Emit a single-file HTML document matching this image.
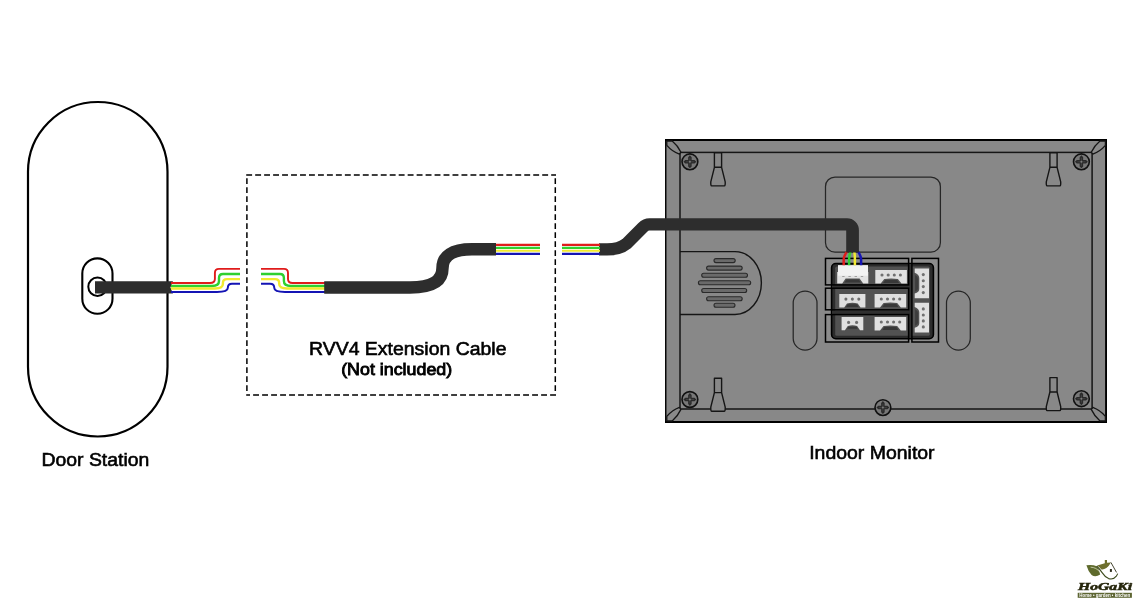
<!DOCTYPE html>
<html lang="en">
<head>
<meta charset="utf-8">
<title>Wiring Diagram</title>
<style>
  html, body { margin: 0; padding: 0; background: #ffffff; }
  body { width: 1135px; height: 612px; overflow: hidden; position: relative; }
  svg { position: absolute; left: 0; top: 0; display: block; will-change: transform; }
  text { font-family: "Liberation Sans", Arial, sans-serif; fill: #000; }
</style>
</head>
<body>
<svg width="1135" height="612" viewBox="0 0 1135 612">
  <defs>
    <g id="screw">
      <circle cx="0" cy="0" r="7.9" fill="#787878" stroke="#111" stroke-width="1.6"/>
      <path d="M-6.5 0 L-4.6 -1.75 H-1.75 V-4.6 L0 -6.5 L1.75 -4.6 V-1.75 H4.6 L6.5 0 L4.6 1.75 H1.75 V4.6 L0 6.5 L-1.75 4.6 V1.75 H-4.6 Z" fill="#2a2a2a"/>
      <path d="M-4 0 H4 M0 -4 V4" stroke="#4a4a4a" stroke-width="0.7" fill="none"/>
      <circle cx="0" cy="0" r="1" fill="#7a7a7a"/>
    </g>
    <g id="hangerTop">
      <path d="M-3.6 0 H3.6 V14.4 L7.2 29 Q7.4 33 6.4 33 H-6.4 Q-7.4 33 -7.2 29 L-3.6 14.4 Z M-3.6 14.4 H3.6" fill="#888888" stroke="#151515" stroke-width="1.4" stroke-linejoin="round"/>
    </g>
    <g id="conn4">
      <path d="M0 0 H31.6 V13.5 H26.2 L22.6 9 Q15.8 7.8 9 9 L5.4 13.5 H0 Z" fill="#e0e0e0"/>
      <path d="M9.8 9.8 H21.8 L23.8 12.9 H7.8 Z" fill="#383838"/>
      <circle cx="6.7" cy="4.9" r="1.55" fill="#707070"/><circle cx="12.9" cy="4.9" r="1.55" fill="#707070"/><circle cx="19" cy="4.9" r="1.55" fill="#707070"/><circle cx="25.1" cy="4.9" r="1.55" fill="#707070"/>
    </g>
    <g id="connV">
      <path d="M0 0 H14.3 V29.8 H0 V25 Q4.6 23.4 4.6 20.4 V9.4 Q4.6 6.2 0 4.2 Z" fill="#e0e0e0"/>
      <path d="M0.4 6.4 Q3.4 8 3.4 10.4 V19.4 Q3.4 21.8 0.4 23 Z" fill="#3c3c3c"/>
      <circle cx="8.6" cy="6.1" r="1.55" fill="#707070"/><circle cx="8.6" cy="12.2" r="1.55" fill="#707070"/><circle cx="8.6" cy="18.1" r="1.55" fill="#707070"/><circle cx="8.6" cy="24.1" r="1.55" fill="#707070"/>
    </g>
  </defs>

  <!-- ================= Door Station ================= -->
  <rect x="28" y="102" width="139.5" height="334.5" rx="69.75" ry="69.75" fill="#fff" stroke="#000" stroke-width="2.2"/>
  <rect x="82.3" y="258.4" width="30.2" height="55.4" rx="15.1" ry="15.1" fill="#fff" stroke="#000" stroke-width="2.1"/>
  <circle cx="97.5" cy="286.7" r="9.2" fill="#fff" stroke="#000" stroke-width="2"/>
  <!-- cable out of door station -->
  <path d="M95 281.3 H173 L170.4 287.4 L173 293.5 H95 Z" fill="#2d2d2d"/>
  <!-- wires -->
  <g fill="none" stroke-linecap="butt" stroke-linejoin="round">
    <path d="M171 283 H210 Q214.9 283 214.9 279 V273 Q214.9 268.9 219 268.9 H240" stroke="#e01b1b" stroke-width="1.9"/>
    <path d="M171 286 H212 Q219 286 219 281 V278 Q219 274 223 274 H240" stroke="#2fd02f" stroke-width="2.4"/>
    <path d="M171 288.5 H215 Q222.9 288.5 222.9 284 V283 Q222.9 279.1 227 279.1 H240" stroke="#f2ea2f" stroke-width="2.4"/>
    <path d="M171 291.9 H217 Q227.8 291.9 227.8 288 Q227.8 283.8 232 283.8 H240" stroke="#1414b4" stroke-width="2"/>
  </g>
  <text x="41.5" y="466.2" font-size="18.8" textLength="107.8" lengthAdjust="spacingAndGlyphs" stroke="#000" stroke-width="0.6">Door Station</text>

  <!-- ================= Extension cable ================= -->
  <g fill="none" stroke="#000" stroke-width="1.5" stroke-dasharray="5.9 3.07">
    <path d="M246.2 174.9 H556"/>
    <path d="M556 395 H246.2" stroke-dasharray="5.9 3.1"/>
    <path d="M246.9 178.2 V391.2" stroke-dasharray="5.9 3.1"/>
    <path d="M555.3 178.2 V391.2" stroke-dasharray="5.9 3.1"/>
  </g>
  <g fill="none" stroke-linecap="butt" stroke-linejoin="round">
    <path d="M261 268.9 H284 Q288 268.9 288 273 V279 Q288 283 292.5 283 H326" stroke="#e01b1b" stroke-width="1.9"/>
    <path d="M261 274 H280 Q283.9 274 283.9 278 V281 Q283.9 286 291 286 H326" stroke="#2fd02f" stroke-width="2.4"/>
    <path d="M261 279.1 H275 Q279.2 279.1 279.2 283 V284 Q279.2 288.5 287 288.5 H326" stroke="#f2ea2f" stroke-width="2.4"/>
    <path d="M261 283.8 H270 Q274.3 283.8 274.3 288 Q274.3 291.9 285 291.9 H326" stroke="#1414b4" stroke-width="2"/>
  </g>
  <path d="M324.2 287.4 H410 C432 287.4 442.5 281 442.5 268 C442.5 256 452 249.3 472 249.3 H496" fill="none" stroke="#2d2d2d" stroke-width="12.5"/>
  <g fill="none" stroke-width="2.1">
    <path d="M496 244.9 H540" stroke="#e01b1b"/>
    <path d="M496 247.9 H540" stroke="#2fd02f"/>
    <path d="M496 250.8 H540" stroke="#f2ea2f"/>
    <path d="M496 253.9 H540" stroke="#1414b4"/>
  </g>
  <text x="309" y="355.4" font-size="18.8" textLength="197.5" lengthAdjust="spacingAndGlyphs" stroke="#000" stroke-width="0.6">RVV4 Extension Cable</text>
  <text x="341.2" y="375.2" font-size="16.4" textLength="111" lengthAdjust="spacingAndGlyphs" stroke="#000" stroke-width="0.85">(Not included)</text>

  <!-- ================= Indoor Monitor ================= -->
  <rect x="665.1" y="139.1" width="441.9" height="283.9" fill="#888888"/>
  <path d="M665.75 139.1 V423" stroke="#000" stroke-width="1.4" fill="none"/>
  <path d="M665.1 140 H1107" stroke="#000" stroke-width="1.8" fill="none"/>
  <path d="M1106.05 139.1 V423" stroke="#000" stroke-width="1.9" fill="none"/>
  <path d="M665.1 422.05 H1107" stroke="#000" stroke-width="1.95" fill="none"/>
  <rect x="680" y="152.4" width="412.1" height="256.6" fill="none" stroke="#151515" stroke-width="1.5"/>
  <!-- corner leaves -->
  <g fill="#8a8a8a" stroke="#151515" stroke-width="1.3" stroke-linejoin="round">
    <path d="M672.2 141 Q677.6 145.4 680.8 152 L679.4 154.2 Q672 151.4 666.8 145.4 L666.8 141 Z"/>
    <path d="M1100 141 Q1094.6 145.4 1091.4 152 L1092.8 154.2 Q1100.2 151.4 1105.4 145.4 L1105.4 141 Z"/>
    <path d="M672.2 421 Q677.6 416.4 680.8 409.6 L679.4 407.4 Q672 410.2 666.8 416.4 L666.8 421 Z"/>
    <path d="M1100 421 Q1094.6 416.4 1091.4 409.6 L1092.8 407.4 Q1100.2 410.2 1105.4 416.4 L1105.4 421 Z"/>
  </g>
  <!-- speaker -->
  <path d="M680 251.6 H735 A26.4 31.45 0 0 1 735 314.5 H680" fill="none" stroke="#151515" stroke-width="1.4"/>
  <g fill="#6a6a6a" stroke="#2a2a2a" stroke-width="1.1">
    <rect x="714" y="258.6" width="21.2" height="4" rx="2"/>
    <rect x="706.6" y="266.1" width="35.6" height="4" rx="2"/>
    <rect x="701.7" y="273.3" width="45.8" height="4" rx="2"/>
    <rect x="698.4" y="280.8" width="52.3" height="4" rx="2"/>
    <rect x="701.7" y="288.5" width="45" height="4" rx="2"/>
    <rect x="706.6" y="296.7" width="35.6" height="4" rx="2"/>
    <rect x="714" y="303.2" width="21" height="4" rx="2"/>
  </g>
  <!-- top panel -->
  <rect x="825.5" y="177" width="114.9" height="75.2" rx="9.5" ry="9.5" fill="none" stroke="#262626" stroke-width="1.25"/>
  <!-- oval slots -->
  <rect x="793.2" y="291.1" width="23.8" height="59" rx="11.9" fill="none" stroke="#262626" stroke-width="1.25"/>
  <rect x="946.5" y="291.1" width="23.8" height="59" rx="11.9" fill="none" stroke="#262626" stroke-width="1.25"/>
  <!-- hangers -->
  <use href="#hangerTop" x="718" y="152.9"/>
  <use href="#hangerTop" x="1053.5" y="152.9"/>
  <use href="#hangerTop" x="718" y="378.2"/>
  <use href="#hangerTop" x="1053.5" y="377.6"/>
  <!-- screws -->
  <use href="#screw" x="689.9" y="161.8"/>
  <use href="#screw" x="1081.4" y="161.8"/>
  <use href="#screw" x="689.9" y="399.5"/>
  <use href="#screw" x="1081.4" y="398.7"/>
  <use href="#screw" x="882.9" y="407.6"/>

  <!-- connector block -->
  <rect x="826" y="259" width="113" height="83" fill="#8c8c8c"/>
  <rect x="831.6" y="263.5" width="101.8" height="75.2" rx="4.2" ry="4.2" fill="#2c2c2c" stroke="#000" stroke-width="1.6"/>
  <rect x="835.2" y="266.6" width="94.6" height="69.2" rx="1.6" ry="1.6" fill="#525252"/>
  <path d="M832 286.5 H910 M832 312.2 H910 M910.2 264 V338" stroke="#303030" stroke-width="3.4" fill="none"/>
  <g fill="none" stroke="#000" stroke-width="1.5">
    <rect x="825.5" y="258.4" width="83.1" height="26.5"/>
    <rect x="825.5" y="288.2" width="83.1" height="21.6"/>
    <rect x="825.5" y="314.6" width="83.1" height="27.4"/>
    <rect x="911.9" y="258.4" width="26.6" height="83.6"/>
  </g>
  <!-- row 1 -->
  <use href="#conn4" x="875.3" y="270.1"/>
  <!-- plugged connector -->
  <path d="M837.2 272 H868.3 V283.4 H863.2 L859.6 278.6 H845.6 L842.2 283.4 H837.2 Z" fill="#e2e2e2"/>
  <path d="M846.4 279.4 H858.8 L860.6 282.6 H844.6 Z" fill="#383838"/>
  <rect x="838" y="265.1" width="30" height="10.6" fill="#f2f2f2"/>
  <path d="M842.2 276.5 h2.4 M848.4 276.5 h2.4 M854.6 276.5 h2.4 M860.8 276.5 h2.4" stroke="#9a9a9a" stroke-width="0.9"/>
  <!-- row 2 -->
  <g transform="translate(839.3 294.1)">
    <path d="M0 0 H26.1 V13.4 H21.2 L18.4 9.4 Q13.05 8 7.7 9.4 L4.9 13.4 H0 Z" fill="#e0e0e0"/>
    <path d="M8.4 10.2 H17.7 L19.3 12.8 H6.8 Z" fill="#383838"/>
    <circle cx="6.6" cy="5" r="1.55" fill="#707070"/><circle cx="13.05" cy="5" r="1.55" fill="#707070"/><circle cx="19.5" cy="5" r="1.55" fill="#707070"/>
  </g>
  <use href="#conn4" x="874.6" y="294.1"/>
  <!-- row 3 -->
  <g transform="translate(841.6 317.1)">
    <path d="M0 0 H21.7 V13.1 H18.4 L15.5 8.9 Q10.85 7.6 6.2 8.9 L3.3 13.1 H0 Z" fill="#e0e0e0"/>
    <path d="M7 9.6 H14.7 L16.1 11.6 H5.6 Z" fill="#383838"/>
    <circle cx="7" cy="5.3" r="1.55" fill="#707070"/><circle cx="15" cy="5.3" r="1.55" fill="#707070"/>
  </g>
  <use href="#conn4" x="874.6" y="317.1"/>
  <!-- right column -->
  <use href="#connV" x="914.7" y="268.5"/>
  <use href="#connV" x="914.7" y="302.8"/>

  <!-- connector wires -->
  <g fill="none" stroke-width="2.5">
    <path d="M847.6 251 Q843.7 255.6 843.7 259.6 V265.2" stroke="#e01b1b"/>
    <path d="M850.8 251 Q849.1 255 849.1 259 V265.2" stroke="#2fd02f"/>
    <path d="M854.2 251 Q854.9 255 854.9 259 V265.2" stroke="#f2ea2f"/>
    <path d="M857.6 251 Q861.1 255.6 861.1 259.6 V265.2" stroke="#1414b4"/>
  </g>
  <!-- monitor cable -->
  <path d="M599 249.4 H607 Q619.6 249.4 626.4 243.8 L642.6 227.6 Q645.8 224.4 649.5 224.4 H840" fill="none" stroke="#2d2d2d" stroke-width="12.4" stroke-linejoin="round"/>
  <path d="M840 218.2 H847 A11.9 11.9 0 0 1 858.9 230.1 V252.6 H846.2 V230.6 H840 Z" fill="#2d2d2d"/>
  <g fill="none" stroke-width="2.1">
    <path d="M562 244.9 H600" stroke="#e01b1b"/>
    <path d="M562 247.9 H600" stroke="#2fd02f"/>
    <path d="M562 250.8 H600" stroke="#f2ea2f"/>
    <path d="M562 253.9 H600" stroke="#1414b4"/>
  </g>

  <text x="809.2" y="459.3" font-size="18.8" textLength="125.4" lengthAdjust="spacingAndGlyphs" stroke="#000" stroke-width="0.6">Indoor Monitor</text>

  <!-- ================= Logo ================= -->
  <g>
    <path d="M1086.4 565.3 Q1092 564.2 1096.8 566.2 Q1099.8 570.2 1100.2 574.6 Q1095.4 577.6 1091.6 575 Q1088.2 571.6 1086.4 565.3 Z" fill="#5e6a2c"/>
    <path d="M1097.2 565.5 L1104.8 563.2 V559.9 H1107 V562.8 L1110.9 562.4 Q1108.6 566.6 1106.4 568 Q1103.4 570 1101.2 569.3 Q1099.6 567 1097.2 565.5 Z" fill="#6d6e2d"/>
    <path d="M1090.6 567.2 Q1096.4 567.4 1099.8 572" fill="none" stroke="#e6ead2" stroke-width="0.7"/>
    <path d="M1096.7 566 Q1099.8 569.2 1102.1 572.6 Q1105 577 1108.6 578.6 Q1113.4 580 1116.3 576.1 Q1117.2 574.8 1117.7 573.6" fill="none" stroke="#3c4a1c" stroke-width="1.1"/>
    <path d="M1110.9 562.4 L1116.5 572.4" fill="none" stroke="#30301a" stroke-width="0.9"/>
    <rect x="1109.9" y="569" width="2" height="2.9" fill="#2e2e1c"/>
    <text x="1105" y="589.8" font-family="'Liberation Serif', serif" font-weight="bold" font-style="italic" font-size="10.6" text-anchor="middle" textLength="54" lengthAdjust="spacingAndGlyphs" style="font-family:'Liberation Serif',serif;fill:#26260c" stroke="#26260c" stroke-width="0.5">HoGaKi</text>
    <rect x="1077.7" y="592.8" width="54.2" height="5" fill="#5d6532"/>
    <text x="1104.8" y="596.9" font-size="4.6" font-weight="bold" text-anchor="middle" textLength="51" lengthAdjust="spacingAndGlyphs" style="fill:#ffffff">Home • garden • kitchen</text>
  </g>
</svg>
</body>
</html>
